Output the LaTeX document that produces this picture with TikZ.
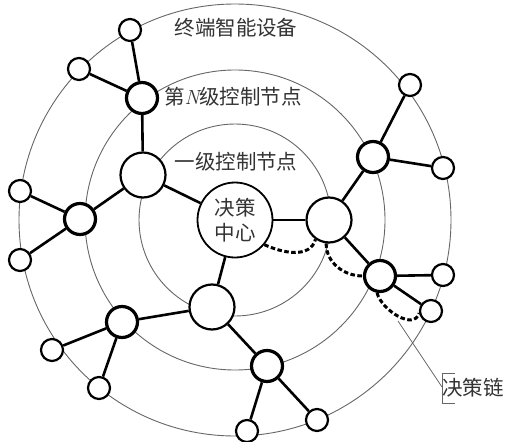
\documentclass[tikz,border=0pt]{standalone}
\usepackage{fontspec}
\newfontfamily\cjk{Noto Sans CJK SC}
\begin{document}
\begin{tikzpicture}[x=1pt,y=-1pt,
  ring/.style={draw=black!60, line width=0.9pt},
  edge/.style={line width=2.6pt},
  chain/.style={line width=3pt, dash pattern=on 4.5pt off 2.5pt},
  leader/.style={draw=black!60, line width=0.8pt},
  nd/.style={circle, draw, fill=white, inner sep=0pt},
  hub/.style={nd, minimum size=75pt, line width=1.8pt, align=center,
    font=\cjk\fontsize{20.5}{25}\selectfont, text=black!80},
  lvlone/.style={nd, minimum size=45pt, line width=2.2pt},
  lvltwo/.style={nd, minimum size=31pt, line width=3.2pt},
  term/.style={nd, minimum size=22pt, line width=2.2pt},
  lbl/.style={font=\cjk\fontsize{20.5}{24}\selectfont, text=black!80, inner sep=1pt}
]
\useasboundingbox (0,0) rectangle (515,442);
\coordinate (O) at (235,220);
\draw[ring] (O) circle[radius=96];
\draw[ring] (O) circle[radius=150];
\draw[ring] (O) circle[radius=216];

\node[lbl] (l3) at (236,28) {终端智能设备};
\node[lbl] (l2) at (233,97) {第{\rmfamily\itshape N}级控制节点};
\node[lbl] (l1) at (236,162) {一级控制节点};

% nodes
\node[hub] (C) at (235,220) {决策\\中心};
\node[lvlone] (A1) at (143,175) {};
\node[lvlone] (A2) at (329,220) {};
\node[lvlone] (A3) at (212,307) {};
\node[lvltwo] (B1) at (142,98) {};
\node[lvltwo] (B2) at (373,157) {};
\node[lvltwo] (B3) at (80,219) {};
\node[lvltwo] (B4) at (122,322) {};
\node[lvltwo] (B5) at (380,276) {};
\node[lvltwo] (B6) at (267,366) {};
\node[term] (T1) at (130,30) {};
\node[term] (T2) at (79,69) {};
\node[term] (T3) at (20,191) {};
\node[term] (T4) at (20,260) {};
\node[term] (T5) at (52,350) {};
\node[term] (T6) at (99,388) {};
\node[term] (T7) at (247,431) {};
\node[term] (T8) at (317,420) {};
\node[term] (T9) at (431,311) {};
\node[term] (T10) at (443,275) {};
\node[term] (T11) at (443,168) {};
\node[term] (T12) at (410,85) {};

% edges
\draw[edge] (C) -- (A1);
\draw[edge] (C) -- (A2);
\draw[edge] (C) -- (A3);
\draw[edge] (A1) -- (B1);
\draw[edge] (A1) -- (B3);
\draw[edge] (B1) -- (T1);
\draw[edge] (B1) -- (T2);
\draw[edge] (B3) -- (T3);
\draw[edge] (B3) -- (T4);
\draw[edge] (A2) -- (B2);
\draw[edge] (A2) -- (B5);
\draw[edge] (B2) -- (T12);
\draw[edge] (B2) -- (T11);
\draw[edge] (B5) -- (T10);
\draw[edge] (B5) -- (T9);
\draw[edge] (A3) -- (B4);
\draw[edge] (A3) -- (B6);
\draw[edge] (B4) -- (T5);
\draw[edge] (B4) -- (T6);
\draw[edge] (B6) -- (T7);
\draw[edge] (B6) -- (T8);

% decision chain
\draw[chain] (C.-40) to[out=-25,in=-105] (A2.-125);
\draw[chain] (A2.-97) to[out=-90,in=180] (B5.180);
\draw[chain] (B5.-100) to[out=-75,in=-105] (T9.-170);

\coordinate (L) at (398,321);
\coordinate (Bk) at (442,387);
\draw[leader] (L) -- (Bk);
\draw[leader] (455,373) -- (442,373) -- (442,403) -- (455,403);
\node[lbl, anchor=west] (chainlbl) at (441,388) {决策链};
\end{tikzpicture}
\end{document}
